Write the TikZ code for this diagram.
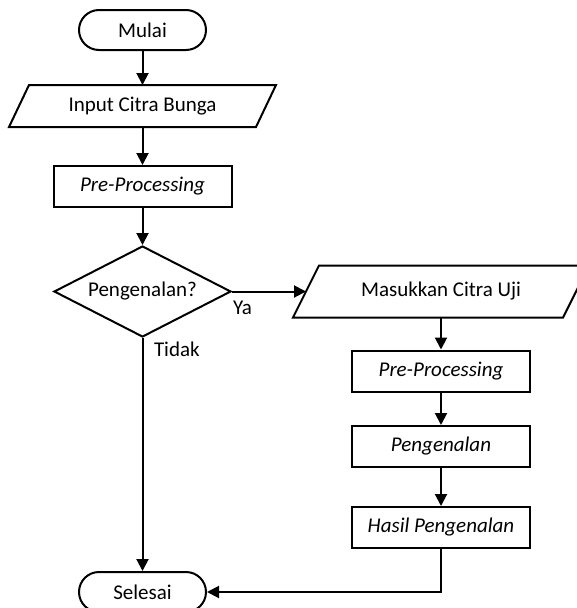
\documentclass[tikz,border=0pt]{standalone}
\usepackage{fontspec}
\setmainfont{Carlito}
\usetikzlibrary{shapes.geometric,shapes.misc,arrows.meta,calc}
\begin{document}
\begin{tikzpicture}[x=1pt,y=-1pt,
 font=\fontsize{21}{25}\selectfont,
 line width=2pt,
 term/.style={rounded rectangle, draw, minimum width=127pt, minimum height=40pt, inner sep=0pt},
 proc/.style={rectangle, draw, minimum width=178pt, minimum height=41pt, inner sep=0pt, font=\fontsize{21}{25}\selectfont\itshape},
 iobox/.style={rectangle, inner sep=0pt},
 dec/.style={diamond, draw, minimum width=177pt, minimum height=91pt, inner sep=0pt, aspect=1.95},
 arr/.style={-{Triangle[length=12pt,width=12pt]}},
 lab/.style={inner sep=0pt}
]
\useasboundingbox (0,0) rectangle (577,608);
\node[term] (start) at (142.5,30) {Mulai};
\node[iobox, minimum width=245pt, minimum height=40pt] (input) at (142.5,106) {Input Citra Bunga};
\draw ($(input.south west)+(-10,0)$) -- ($(input.north west)+(10,0)$) -- ($(input.north east)+(10,0)$) -- ($(input.south east)+(-10,0)$) -- cycle;
\node[proc] (pre1) at (142.5,186.5) {Pre-Processing};
\node[dec] (dec) at (142.5,291.5) {Pengenalan?};
\node[iobox, minimum width=268pt, minimum height=50pt] (uji) at (441,291.5) {Masukkan Citra Uji};
\draw ($(uji.south west)+(-13,0)$) -- ($(uji.north west)+(13,0)$) -- ($(uji.north east)+(13,0)$) -- ($(uji.south east)+(-13,0)$) -- cycle;
\node[proc] (pre2) at (441,371) {Pre-Processing};
\node[proc] (pen) at (441,446.5) {Pengenalan};
\node[proc] (has) at (441,527.5) {Hasil Pengenalan};
\node[term] (end) at (142.5,592) {Selesai};
\node[lab, anchor=west] (ya) at (232,308) {Ya};
\node[lab, anchor=west] (tidak) at (153,349) {Tidak};
\draw[arr] (start) -- (input);
\draw[arr] (input) -- (pre1);
\draw[arr] (pre1) -- (dec);
\draw[arr] (dec.east) -- (uji.west);
\draw[arr] (uji) -- (pre2);
\draw[arr] (pre2) -- (pen);
\draw[arr] (pen) -- (has);
\draw[arr] (has.south) |- (end.east);
\draw[arr] (dec.south) -- (end.north);
\end{tikzpicture}
\end{document}
